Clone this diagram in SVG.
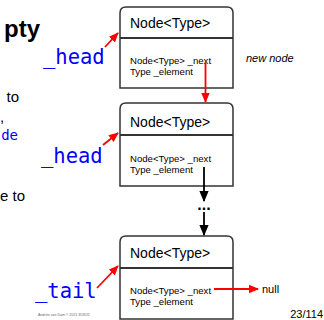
<svg xmlns="http://www.w3.org/2000/svg" width="324" height="320" viewBox="0 0 324 320">
<style>
.box{fill:#fff;stroke:#333;stroke-width:1.5}
.div{stroke:#333;stroke-width:2}
.hdr{font-family:"Liberation Sans",Arial,sans-serif;font-size:14px;fill:#000}
.body{font-family:"Liberation Sans",Arial,sans-serif;font-size:9.6px;fill:#000}
.code{font-family:"DejaVu Sans Mono",monospace;font-size:20.5px;fill:#0000ff}
.txt{font-family:"Liberation Sans",Arial,sans-serif;font-size:15px;fill:#000}
.red{stroke:#ff0000;stroke-width:1.8;fill:none}
.blk{stroke:#000;stroke-width:1.8;fill:none}
</style>
<defs>
<marker id="ar" markerUnits="userSpaceOnUse" markerWidth="10" markerHeight="10" viewBox="0 0 10 10" refX="9" refY="5" orient="auto"><path d="M0,0.8 L10,5 L0,9.2 z" fill="#ff0000"/></marker>
<marker id="ab" markerUnits="userSpaceOnUse" markerWidth="11" markerHeight="11" viewBox="0 0 10 10" refX="9" refY="5" orient="auto"><path d="M0,0.8 L10,5 L0,9.2 z" fill="#000"/></marker>
</defs>
<g id="slide-text">
<text x="40" y="37" text-anchor="end" style="font-family:'Liberation Sans',Arial,sans-serif;font-size:24px;font-weight:bold">pty</text>
<text class="txt" x="19" y="102" text-anchor="end">to</text>
<text class="txt" x="0" y="122">,</text>
<text x="18" y="140" text-anchor="end" style="font-family:'DejaVu Sans Mono',monospace;font-size:14px;fill:#0000ff">de</text>
<text class="txt" x="25" y="201" text-anchor="end">e to</text>
<text x="38" y="316" style="font-family:'Liberation Sans',Arial,sans-serif;font-size:3.5px;fill:#666">Andries van Dam © 2021 3/18/21</text>
<text x="323" y="318" text-anchor="end" style="font-family:'Liberation Sans',Arial,sans-serif;font-size:11px;fill:#000">23/114</text>
</g>
<g id="label-head1"><text class="code" x="43" y="64">_head</text></g>
<g id="label-head2"><text class="code" x="41" y="163">_head</text></g>
<g id="label-tail"><text class="code" x="35" y="298">_tail</text></g>
<g id="node1">
<path class="box" d="M120,88 V13 Q120,7 126,7 H227 Q233,7 233,13 V88 Z"/>
<line class="div" x1="120" y1="38" x2="233" y2="38"/>
<text class="hdr" x="130" y="28">Node&lt;Type&gt;</text>
<text class="body" x="130" y="64">Node&lt;Type&gt; _next</text>
<text class="body" x="130" y="75">Type _element</text>
</g>
<g id="node2">
<path class="box" d="M120,186 V109 Q120,103 126,103 H227 Q233,103 233,109 V186 Z"/>
<line class="div" x1="120" y1="135" x2="233" y2="135"/>
<text class="hdr" x="130" y="127">Node&lt;Type&gt;</text>
<text class="body" x="130" y="162">Node&lt;Type&gt; _next</text>
<text class="body" x="130" y="173">Type _element</text>
</g>
<g id="node3">
<path class="box" d="M120,319 V242 Q120,236 126,236 H227 Q233,236 233,242 V319 Z"/>
<line class="div" x1="120" y1="268" x2="233" y2="268"/>
<text class="hdr" x="130" y="258">Node&lt;Type&gt;</text>
<text class="body" x="130" y="294">Node&lt;Type&gt; _next</text>
<text class="body" x="130" y="305">Type _element</text>
</g>
<g id="annotations">
<text x="246" y="62" style="font-family:'Liberation Sans',Arial,sans-serif;font-size:11px;font-style:italic;fill:#000">new node</text>
<text x="262" y="293" style="font-family:'Liberation Sans',Arial,sans-serif;font-size:11px;fill:#000">null</text>
<text x="204" y="210" text-anchor="middle" style="font-family:'Liberation Sans',Arial,sans-serif;font-size:16px;font-weight:bold;fill:#000">...</text>
</g>
<g id="connectors">
<line class="red" x1="105" y1="47" x2="118" y2="33" marker-end="url(#ar)"/>
<line class="red" x1="205.5" y1="63" x2="205.5" y2="102" marker-end="url(#ar)"/>
<line class="red" x1="103" y1="145" x2="118" y2="133" marker-end="url(#ar)"/>
<line class="blk" x1="204" y1="167" x2="204" y2="201" marker-end="url(#ab)"/>
<line class="blk" x1="204" y1="212" x2="204" y2="235" marker-end="url(#ab)"/>
<line class="red" x1="97" y1="288" x2="118" y2="266" marker-end="url(#ar)"/>
<line class="red" x1="214" y1="289" x2="258" y2="289" marker-end="url(#ar)"/>
</g>
</svg>
